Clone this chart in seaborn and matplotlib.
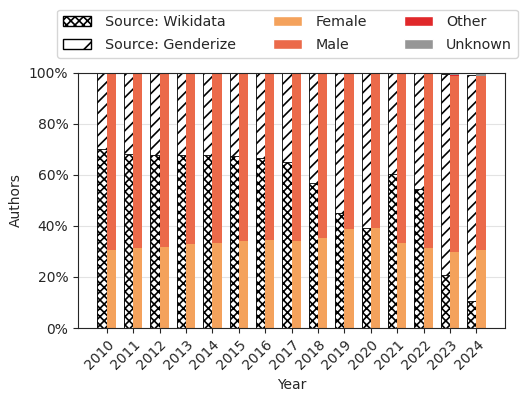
import pandas as pd
import seaborn as sns
import matplotlib.pyplot as plt
from matplotlib.patches import Patch
from matplotlib.ticker import PercentFormatter

# Share of authors per year, by attribution source and by gender
years = ["2010", "2011", "2012", "2013", "2014", "2015", "2016", "2017",
         "2018", "2019", "2020", "2021", "2022", "2023", "2024"]
wikidata = [0.700, 0.684, 0.680, 0.678, 0.678, 0.675, 0.665, 0.651,
            0.567, 0.449, 0.393, 0.602, 0.543, 0.206, 0.106]
genderize = [0.300, 0.316, 0.320, 0.322, 0.322, 0.325, 0.335, 0.349,
             0.433, 0.551, 0.607, 0.398, 0.457, 0.789, 0.884]
female = [0.307, 0.312, 0.316, 0.329, 0.333, 0.341, 0.345, 0.343,
          0.353, 0.390, 0.393, 0.332, 0.312, 0.298, 0.305]
male = [0.693, 0.688, 0.684, 0.671, 0.667, 0.659, 0.655, 0.657,
        0.645, 0.607, 0.602, 0.664, 0.684, 0.690, 0.681]
other = [0.000, 0.000, 0.000, 0.000, 0.000, 0.000, 0.000, 0.000,
         0.000, 0.000, 0.001, 0.001, 0.001, 0.002, 0.002]
unknown = [0.000, 0.000, 0.000, 0.000, 0.000, 0.000, 0.000, 0.000,
           0.002, 0.003, 0.004, 0.003, 0.003, 0.010, 0.012]

colors = {"Female": "#f4a25c", "Male": "#eb6a4a", "Other": "#e0282a", "Unknown": "#969696"}

sns.set_style("ticks")
plt.rcParams["font.family"] = "DejaVu Sans"
plt.rcParams["hatch.linewidth"] = 1.2

fig, ax = plt.subplots(figsize=(5.24, 3.94), dpi=100)
fig.subplots_adjust(left=0.149, right=0.964, bottom=0.1675, top=0.815)

src = pd.DataFrame({"Wikidata": wikidata, "Genderize": genderize}).cumsum(axis=1)
gen = pd.DataFrame({"Female": female, "Male": male, "Other": other,
                    "Unknown": unknown}).cumsum(axis=1)


def draw(values, part, **kw):
    d = pd.DataFrame({"year": years, "value": values, "part": part})
    sns.barplot(data=d, x="year", y="value", hue="part",
                hue_order=["Source", "Gender"], dodge=True, width=0.7,
                palette={"Source": "white", "Gender": "white"},
                saturation=1, errorbar=None, legend=False, ax=ax, **kw)


# draw from the top of each stack down so lower parts sit on top
draw(src["Genderize"], "Source", facecolor="white",
     edgecolor="black", linewidth=0.6, hatch="///")
draw(src["Wikidata"], "Source", facecolor="white",
     edgecolor="black", linewidth=0.6, hatch="xxxx")
for name in ["Unknown", "Other", "Male", "Female"]:
    draw(gen[name], "Gender", facecolor=colors[name], linewidth=0)

ax.set_xlim(-1.085, 15.085)
ax.set_ylim(0, 1)
ax.set_yticks([0, 0.2, 0.4, 0.6, 0.8, 1.0])
ax.yaxis.set_major_formatter(PercentFormatter(1.0, decimals=0))
ax.grid(axis="y", color="#e3e3e3", linewidth=0.8)
ax.set_axisbelow(True)
ax.tick_params(labelsize=10)
plt.setp(ax.get_xticklabels(), rotation=45, ha="right", rotation_mode="anchor")
ax.set_xlabel("Year", fontsize=10)
ax.set_ylabel("Authors", fontsize=10)

handles = [
    Patch(facecolor="white", edgecolor="black", hatch="xxxx", label="Source: Wikidata"),
    Patch(facecolor="white", edgecolor="black", hatch="/", label="Source: Genderize"),
    Patch(facecolor=colors["Female"], label="Female"),
    Patch(facecolor=colors["Male"], label="Male"),
    Patch(facecolor=colors["Other"], label="Other"),
    Patch(facecolor=colors["Unknown"], label="Unknown"),
]
ax.legend(handles=handles, loc="lower center", bbox_to_anchor=(0.49, 1.06),
          ncol=3, fontsize=10.3, frameon=True, columnspacing=2.6,
          handletextpad=0.95, labelspacing=0.6, borderaxespad=0)

fig.savefig("out.png", dpi=100)
